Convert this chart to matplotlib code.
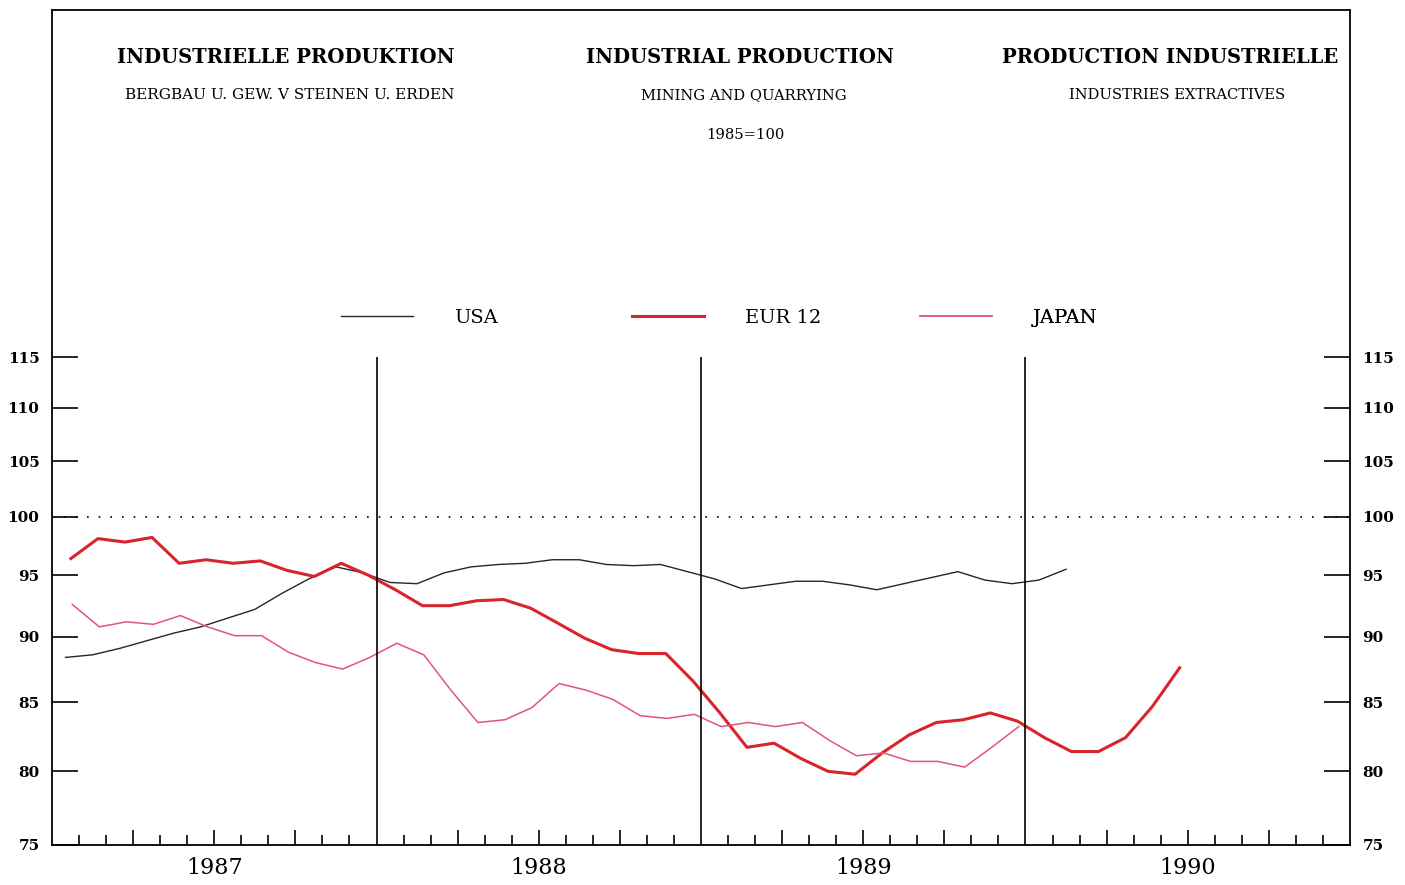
import numpy as np
import matplotlib
matplotlib.use('Agg')
import matplotlib.pyplot as plt

# monthly index values, 1985=100, starting Jan 1987
usa = [88.4, 88.6, 89.1, 89.7, 90.3, 90.8, 91.5, 92.2, 93.5, 94.7, 95.7, 95.2,
       94.4, 94.3, 95.2, 95.7, 95.9, 96.0, 96.3, 96.3, 95.9, 95.8, 95.9, 95.3,
       94.7, 93.9, 94.2, 94.5, 94.5, 94.2, 93.8, 94.3, 94.8, 95.3, 94.6, 94.3,
       94.6, 95.5]
eur12 = [96.4, 98.1, 97.8, 98.2, 96.0, 96.3, 96.0, 96.2, 95.4, 94.9, 96.0, 95.0,
         93.8, 92.5, 92.5, 92.9, 93.0, 92.3, 91.1, 89.9, 89.0, 88.7, 88.7, 86.6,
         84.2, 81.7, 82.0, 80.9, 80.0, 79.8, 81.3, 82.6, 83.5, 83.7, 84.2, 83.6,
         82.4, 81.4, 81.4, 82.4, 84.7, 87.6]
japan = [92.6, 90.8, 91.2, 91.0, 91.7, 90.8, 90.1, 90.1, 88.8, 88.0, 87.5, 88.4,
         89.5, 88.6, 85.9, 83.5, 83.7, 84.6, 86.4, 85.9, 85.2, 84.0, 83.8, 84.1,
         83.2, 83.5, 83.2, 83.5, 82.2, 81.1, 81.3, 80.7, 80.7, 80.3, 81.7, 83.2]

years = ['1987', '1988', '1989', '1990']
yticks = [75, 80, 85, 90, 95, 100, 105, 110, 115]

plt.rcParams['font.family'] = 'DejaVu Serif'

fig = plt.figure(figsize=(14.05, 8.85), dpi=100)
ax = fig.add_axes([52 / 1405, 40 / 885, 1298 / 1405, 835 / 885])

ax.set_yscale('log')
ax.set_xlim(0, 48)
ax.set_ylim(75, 155.9)

l_usa, = ax.plot(np.arange(len(usa)) + 0.5, usa, color='#262626', lw=1.0, label='USA')
l_eur, = ax.plot(np.arange(len(eur12)) + 0.7, eur12, color='#d8242a', lw=2.2, label='EUR 12')
l_jap, = ax.plot(np.arange(len(japan)) + 0.75, japan, color='#e2547e', lw=1.1, label='JAPAN')

# year separators and reference level
ax.vlines([12, 24, 36], 75, 115, color='black', lw=1.2)
ax.axhline(100, color='black', lw=1.2, ls=(0, (1, 6)))

# y axis: ticks inside, labels on both sides
ax.yaxis.set_minor_locator(matplotlib.ticker.NullLocator())
ax.set_yticks(yticks)
ax.set_yticklabels([str(v) for v in yticks], fontsize=11, fontweight='bold')
ax.tick_params(axis='y', which='major', direction='in', length=19, width=1.2,
               left=True, right=True, labelleft=True, labelright=True, pad=9)

# x axis: month ticks, taller at quarters
quarters = [m for m in range(3, 48, 3) if m % 12 != 0]
months = [m for m in range(1, 48) if m % 3 != 0]
ax.set_xticks(quarters)
ax.set_xticks(months, minor=True)
ax.tick_params(axis='x', which='major', direction='in', length=11, width=1.2, labelbottom=False)
ax.tick_params(axis='x', which='minor', direction='in', length=7.5, width=1.2)
for i, yr in enumerate(years):
    ax.text(12 * i + 6, -0.014, yr, transform=ax.get_xaxis_transform(),
            ha='center', va='top', fontsize=16)

for s in ax.spines.values():
    s.set_linewidth(1.3)

# headers
tsize = 14.1
ssize = 10.6
fig.text(286 / 1405, 1 - 57 / 885, 'INDUSTRIELLE PRODUKTION', ha='center', va='center',
         fontsize=tsize, fontweight='bold')
fig.text(290 / 1405, 1 - 95 / 885, 'BERGBAU U. GEW. V STEINEN U. ERDEN', ha='center', va='center',
         fontsize=ssize + 0.4)
fig.text(740 / 1405, 1 - 57 / 885, 'INDUSTRIAL PRODUCTION', ha='center', va='center',
         fontsize=tsize, fontweight='bold')
fig.text(744 / 1405, 1 - 95 / 885, 'MINING AND QUARRYING', ha='center', va='center',
         fontsize=ssize)
fig.text(745 / 1405, 1 - 135 / 885, '1985=100', ha='center', va='center', fontsize=ssize)
fig.text(1170 / 1405, 1 - 57 / 885, 'PRODUCTION INDUSTRIELLE', ha='center', va='center',
         fontsize=tsize, fontweight='bold')
fig.text(1177 / 1405, 1 - 95 / 885, 'INDUSTRIES EXTRACTIVES', ha='center', va='center',
         fontsize=ssize)

# legend entries sit in fixed-width slots
for handle, x0 in [(l_usa, 341), (l_eur, 632), (l_jap, 920)]:
    leg = ax.legend([handle], [handle.get_label()], loc='center left',
                    bbox_to_anchor=(x0 / 1405, 1 - 318 / 885), bbox_transform=fig.transFigure,
                    frameon=False, fontsize=14, handlelength=3.7, handletextpad=2.1,
                    borderpad=0, borderaxespad=0)
    ax.add_artist(leg)

fig.savefig('out.png', dpi=100, facecolor='white')
